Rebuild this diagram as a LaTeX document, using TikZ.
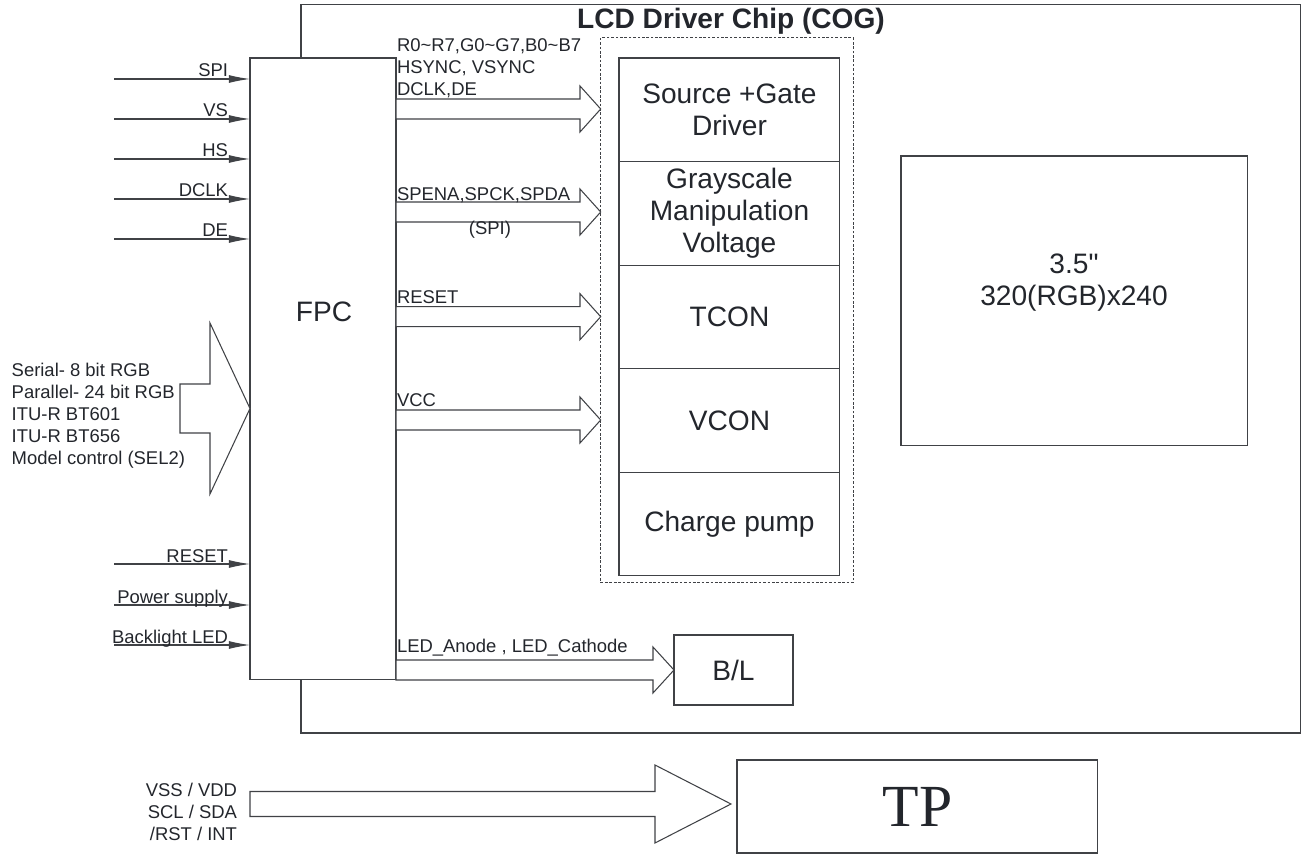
\documentclass[tikz,border=0pt]{standalone}
\usepackage{fontspec}
\setmainfont{Liberation Sans}
\newfontfamily\rawsans{Liberation Sans}[Ligatures=TeXOff]
\newfontfamily\tpfont{Liberation Serif}
\usepackage{xcolor}
\usetikzlibrary{positioning, arrows.meta}
\definecolor{linecol}{RGB}{64,66,70}
\definecolor{txtcol}{RGB}{35,38,44}

% hollow block arrow: from, head x, to, mid y, shaft half, head half
\newcommand{\fatarrow}[6]{%
  \draw[fat] (#1 |- 0,{#4-#5}) -- (#2,{#4-#5}) -- (#2,{#4-#6}) -- (#3 |- 0,#4)
    -- (#2,{#4+#6}) -- (#2,{#4+#5}) -- (#1 |- 0,{#4+#5}) -- cycle;}

\begin{document}
\begin{tikzpicture}[x=0.02cm, y=-0.02cm, line width=0.6pt, color=linecol, text=txtcol,
  every node/.style={inner sep=0pt, outer sep=0pt},
  lbl/.style={font=\fontsize{10.5}{12.4}\selectfont, align=left},
  big/.style={font=\fontsize{16}{18.2}\selectfont, align=center},
  box/.style={draw=linecol, fill=white, anchor=north west},
  cell/.style={draw=linecol, minimum width=4.42cm, minimum height=2.072cm, big},
  sig/.style={-{Latex[length=12pt, width=4.5pt]}, linecol},
  fat/.style={draw=linecol, fill=white, line join=miter}]
\path[use as bounding box] (0,0) rectangle (1305,854);

\node[box, fill=none, line width=0.8pt, minimum width=19.99cm, minimum height=14.57cm] (chip) at (301,4.5) {};
\node[font=\fontsize{16}{18}\selectfont\bfseries] (title) at (731,21) {LCD Driver Chip (COG)};

\node[box, minimum width=2.92cm, minimum height=12.44cm] (fpc) at (250,58) {};
\node[big] (fpclbl) at (324,312) {FPC};

% driver column
\node[box, fill=none, line width=0.5pt, dash pattern=on 1.5pt off 1pt,
  minimum width=5.046cm, minimum height=10.906cm] (drv) at (600.7,37.7) {};
\node[cell, anchor=north west] (src) at (619,58) {Source +Gate\\Driver};
\node[cell, below=0pt of src] (gray) {Grayscale\\Manipulation\\Voltage};
\node[cell, below=0pt of gray] (tcon) {TCON};
\node[cell, below=0pt of tcon] (vcon) {VCON};
\node[cell, below=0pt of vcon] (pump) {Charge pump};

\node[box, minimum width=6.94cm, minimum height=5.8cm] (screen) at (901,156) {};
\node[big, font=\rawsans\fontsize{16}{18.2}\selectfont] (scrlbl) at (1074,283) {3.5"\\320(RGB)x240};
\node[box, big, minimum width=2.38cm, minimum height=1.4cm] (bl) at (674,635) {B/L};
\node[box, font=\tpfont\fontsize{34}{34}\selectfont, minimum width=7.22cm, minimum height=1.86cm] (tp) at (737,760) {TP};

% inputs into the FPC
\foreach \name/\y [count=\i] in {SPI/79, VS/119, HS/159, DCLK/199, DE/239,
    RESET/564, Power supply/605, Backlight LED/645} {
  \draw[sig] (114,\y) -- (fpc.west |- 0,\y);
  \node[lbl, anchor=base east] (in\i) at (228,{\y-2}) {\name};
}

% FPC to driver
\fatarrow{fpc.east}{580}{drv.west}{109}{10}{23}
\node[lbl, anchor=west] (rgb) at (397,68.3)
  {R0\textasciitilde R7,G0\textasciitilde G7,B0\textasciitilde B7\\HSYNC, VSYNC\\DCLK,DE};
\fatarrow{fpc.east}{580}{drv.west}{212}{10}{23}
\node[lbl, anchor=west] (spena) at (397,195) {SPENA,SPCK,SPDA};
\node[lbl] (spi) at (490,230) {(SPI)};
\fatarrow{fpc.east}{580}{drv.west}{316.7}{10}{23}
\node[lbl, anchor=west] (reset) at (397,296.7) {RESET};
\fatarrow{fpc.east}{580}{drv.west}{420}{10}{23}
\node[lbl, anchor=west] (vcc) at (397,400) {VCC};
\fatarrow{fpc.east}{653}{bl.west}{670}{10}{23}
\node[lbl, anchor=west] (led) at (397,648) {LED\_Anode , LED\_Cathode};

% interface modes
\fatarrow{180,0}{210}{fpc.west}{408.5}{24.5}{85.5}
\node[lbl, anchor=west] (modes) at (11.7,415.7)
  {Serial- 8 bit RGB\\Parallel- 24 bit RGB\\ITU-R BT601\\ITU-R BT656\\Model control (SEL2)};

% touch panel
\fatarrow{250,0}{655}{731,0}{804}{12.5}{39}
\node[lbl, align=right, anchor=east] (tplbl) at (237,812) {VSS / VDD\\SCL / SDA\\/RST / INT};
\end{tikzpicture}
\end{document}
